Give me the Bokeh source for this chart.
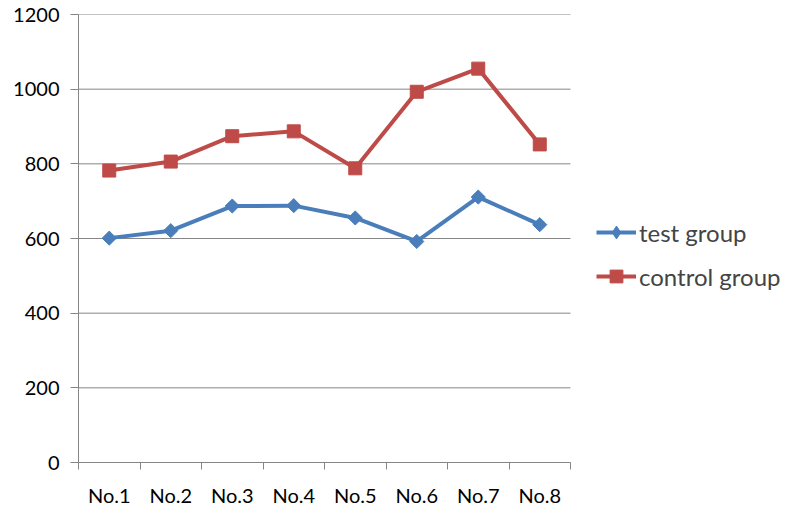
from bokeh.plotting import figure
from bokeh.models import FixedTicker, Range1d, Legend, LegendItem
from bokeh.embed import file_html
from bokeh.resources import INLINE
import math

categories = ["No.1", "No.2", "No.3", "No.4", "No.5", "No.6", "No.7", "No.8"]
test_group = [601, 621, 687, 688, 655, 592, 711, 637]
control_group = [782, 806, 874, 887, 788, 993, 1055, 852]
y_ticks = [0, 200, 400, 600, 800, 1000, 1200]

FONT = "Lato"
GRID = "#868686"
BLUE = "#4A7EBB"
RED = "#BE4B48"

n = len(categories)
xs = [i + 0.5 for i in range(n)]

W, H = 787, 512
LEFT, TOP, BOTTOM = 78, 14, 50
PLOT_W = 492  # pixel width occupied by the categories
x_end = n * (W - LEFT) / PLOT_W

p = figure(width=W, height=H, output_backend="svg", toolbar_location=None,
           x_range=Range1d(0, x_end), y_range=Range1d(0, max(y_ticks)),
           min_border_left=LEFT, min_border_right=0, min_border_top=TOP,
           min_border_bottom=BOTTOM)
p.outline_line_color = None
p.background_fill_color = "white"
p.border_fill_color = "white"
p.xgrid.visible = False
p.ygrid.visible = False

# horizontal gridlines limited to the category span
p.segment(x0=[0] * len(y_ticks), y0=y_ticks, x1=[n] * len(y_ticks), y1=y_ticks,
          line_color=GRID, line_width=1)

l1 = p.line(xs, test_group, line_color=BLUE, line_width=4)
# diamond marker (hidden under the rotated squares) used for the legend symbol
d_leg = p.scatter(xs, test_group, marker="diamond", size=8,
                  fill_color=BLUE, line_color=BLUE)
s1 = p.scatter(xs, test_group, marker="square", size=10, angle=math.pi/4,
               fill_color=BLUE, line_color=BLUE)
l2 = p.line(xs, control_group, line_color=RED, line_width=4)
s2 = p.scatter(xs, control_group, marker="square", size=13,
               fill_color=RED, line_color=RED)

# x axis
p.xaxis.ticker = FixedTicker(ticks=xs, minor_ticks=list(range(n + 1)))
p.xaxis.bounds = (0, n)
p.xaxis.major_label_overrides = {x: c for x, c in zip(xs, categories)}
p.xaxis.major_tick_out = 0
p.xaxis.major_tick_in = 0
p.xaxis.minor_tick_out = 7
p.xaxis.minor_tick_in = 0
p.xaxis.minor_tick_line_color = GRID
p.xaxis.axis_line_color = GRID
p.xaxis.major_label_standoff = 13

# y axis
p.yaxis.ticker = FixedTicker(ticks=y_ticks, minor_ticks=[])
p.yaxis.major_tick_out = 8
p.yaxis.major_tick_in = 0
p.yaxis.major_tick_line_color = GRID
p.yaxis.axis_line_color = GRID
p.yaxis.major_label_standoff = 11

for ax in (p.xaxis, p.yaxis):
    ax.major_label_text_font = FONT
    ax.major_label_text_font_size = "20px"
    ax.major_label_text_color = "black"

legend = Legend(items=[LegendItem(label="test group", renderers=[l1, d_leg]),
                       LegendItem(label="control group", renderers=[l2, s2])],
                location=(518, 170))
legend.border_line_color = None
legend.background_fill_alpha = 0
legend.label_text_font = FONT
legend.label_text_font_size = "24px"
legend.glyph_width = 40
legend.glyph_height = 32
legend.label_height = 22
legend.spacing = 12
legend.label_standoff = 3
legend.padding = 0
legend.margin = 0
p.add_layout(legend, "center")

open("out.html", "w").write(file_html(p, INLINE))
